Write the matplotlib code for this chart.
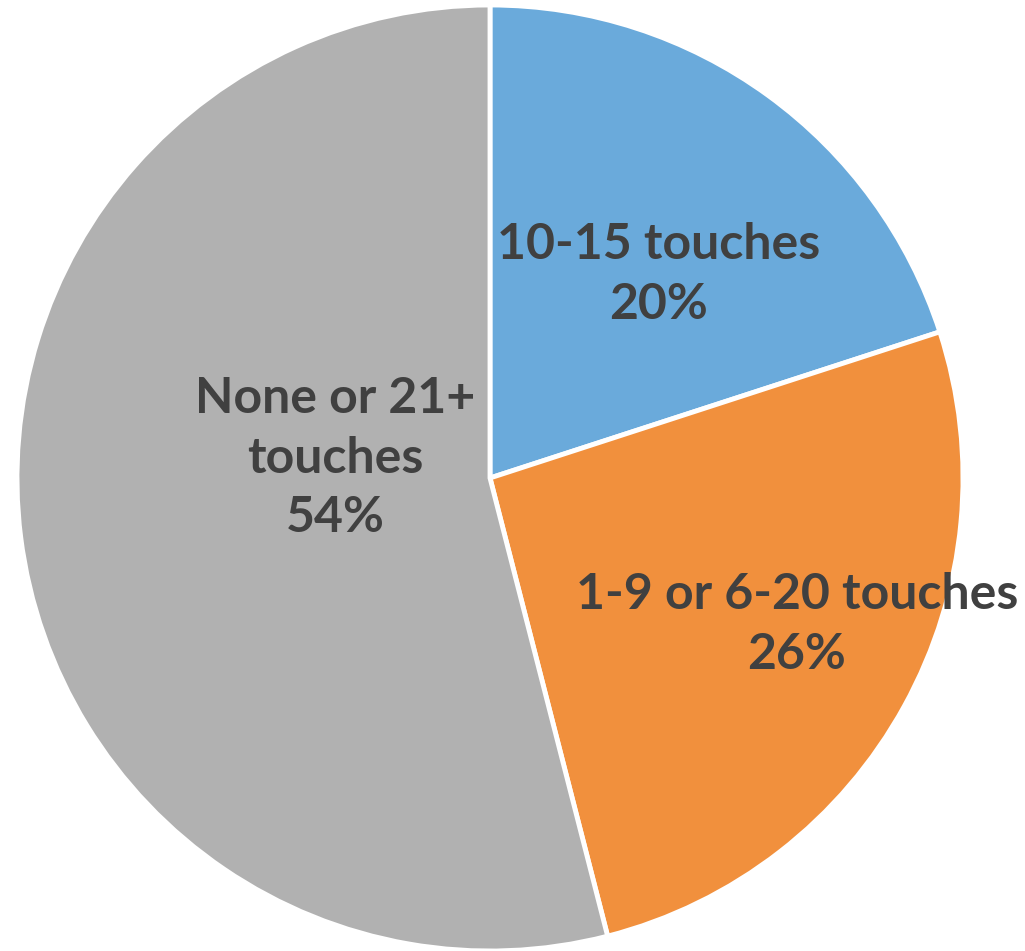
import matplotlib.pyplot as plt

# touch-count groups and their shares
groups = ['10-15 touches', '1-9 or 6-20 touches', 'None or 21+\ntouches']
shares = [20, 26, 54]
colors = ['#6aaadb', '#f1903d', '#b1b1b1']

fig = plt.figure(figsize=(10.25, 9.51), dpi=100)
# axes sized so the pie fills the canvas
W, H = 1025, 951
cx, cy, r = 490, 473, 473
ax = fig.add_axes([(cx - r) / W, (cy - r) / H, 2 * r / W, 2 * r / H])

wedges, _ = ax.pie(shares, colors=colors, startangle=90, counterclock=False,
                   radius=1.0, wedgeprops=dict(edgecolor='white', linewidth=3.5))
ax.set_xlim(-1, 1)
ax.set_ylim(-1, 1)
ax.set_aspect('equal')

# label offsets (relative to radius)
label_pos = [(0.357, 0.43), (0.649, -0.31), (-0.328, 0.042)]
for g, s, (x, y) in zip(groups, shares, label_pos):
    ax.text(x, y, f'{g}\n{s}%', ha='center', va='center', fontsize=36,
            fontweight='bold', color='#404040', family='Lato', linespacing=1.4)

fig.savefig('out.png', dpi=100)
